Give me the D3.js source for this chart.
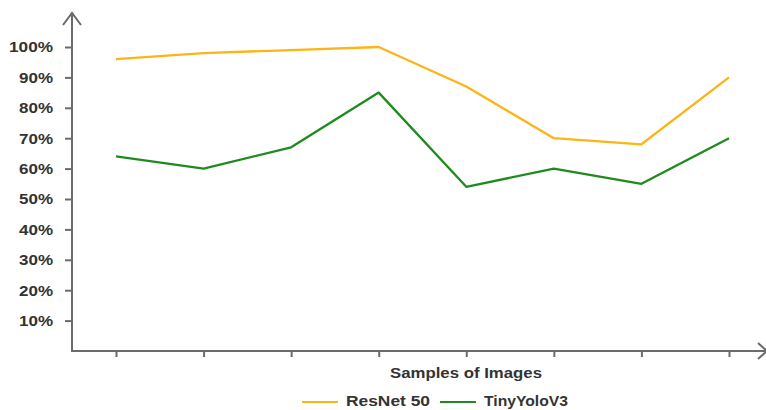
<!DOCTYPE html>
<html><head><meta charset="utf-8">
<script src="https://cdn.jsdelivr.net/npm/d3@7"></script>
<style>body{margin:0;background:#fff}svg{display:block}text{font-family:"Liberation Sans",Arial,sans-serif}</style>
</head><body>
<svg id="c" width="766" height="410"></svg>
<script>
const samples = [1,2,3,4,5,6,7,8];
const resnet50 = [96,98,99,100,87,70,68,90];
const tinyYoloV3 = [64,60,67,85,54,60,55,70];
const yTicks = [10,20,30,40,50,60,70,80,90,100];
const seriesNames = ["ResNet 50","TinyYoloV3"];
const colors = ["#FDB515","#1F8A1F"];

const svg = d3.select("#c");
const axisColor = "#6b6b6b";
const fs = 15;
const x = d3.scaleLinear().domain([1,8]).range([116,729]);
const y = d3.scaleLinear().domain([0,100]).range([351,47]);

// y axis
const yAxis = d3.axisLeft(y).tickValues(yTicks).tickFormat(d=>d+"%").tickSize(7).tickPadding(12);
const gy = svg.append("g").attr("transform","translate(72,0)").call(yAxis);
gy.select(".domain").remove();
gy.selectAll("line").attr("stroke",axisColor).attr("stroke-width",2);
gy.selectAll("text").attr("fill","#333").attr("font-size",fs).attr("font-weight","bold")
  .attr("textLength",d=>d>=100?44:34).attr("lengthAdjust","spacingAndGlyphs");
svg.append("line").attr("x1",72).attr("x2",72).attr("y1",13).attr("y2",352).attr("stroke",axisColor).attr("stroke-width",2);
svg.append("path").attr("d","M63,25 L72,13 L81,25").attr("fill","none").attr("stroke",axisColor).attr("stroke-width",2);

// x axis
const xAxis = d3.axisBottom(x).tickValues(samples).tickFormat("").tickSize(6);
const gx = svg.append("g").attr("transform","translate(0,351)").call(xAxis);
gx.select(".domain").remove();
gx.selectAll("line").attr("stroke",axisColor).attr("stroke-width",2);
svg.append("line").attr("x1",71).attr("x2",766).attr("y1",351).attr("y2",351).attr("stroke",axisColor).attr("stroke-width",2);
svg.append("path").attr("d","M758,343 L767,351 L758,359").attr("fill","none").attr("stroke",axisColor).attr("stroke-width",2);

svg.append("text").attr("x",466).attr("y",378).attr("text-anchor","middle")
  .attr("font-size",fs).attr("font-weight","bold").attr("fill","#333")
  .attr("textLength",152).attr("lengthAdjust","spacingAndGlyphs").text("Samples of Images");

const line = d3.line().x((d,i)=>x(samples[i])).y(d=>y(d));
[resnet50,tinyYoloV3].forEach((s,k)=>{
  svg.append("path").datum(s).attr("d",line).attr("fill","none")
    .attr("stroke",colors[k]).attr("stroke-width",2.3).attr("stroke-linejoin","round");
});

// legend
const legX = [302,440];
const legW = [84,84];
seriesNames.forEach((n,k)=>{
  svg.append("line").attr("x1",legX[k]).attr("x2",legX[k]+36).attr("y1",402).attr("y2",402)
    .attr("stroke",colors[k]).attr("stroke-width",2);
  svg.append("text").attr("x",legX[k]+44).attr("y",406).attr("font-size",fs)
    .attr("font-weight","bold").attr("fill","#333")
    .attr("textLength",legW[k]).attr("lengthAdjust","spacingAndGlyphs").text(n);
});
</script>
</body></html>
